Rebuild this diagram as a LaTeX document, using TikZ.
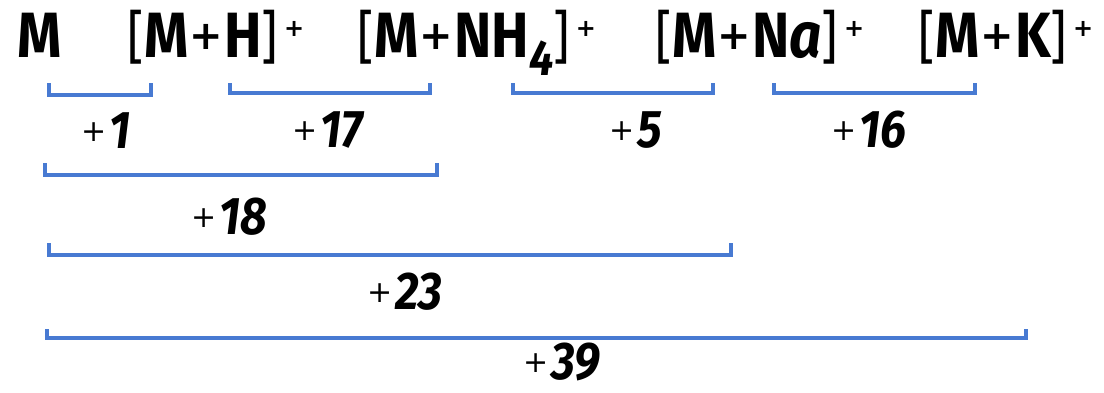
\documentclass[tikz,border=0pt]{standalone}
\usepackage{fontspec}
\setmainfont{Fira Sans}[FakeStretch=0.88]
\newfontfamily\plusfont{DejaVu Sans}
\definecolor{brk}{RGB}{72,122,210}
\newcommand\BigT{\fontsize{64}{64}\selectfont}
\newcommand\NumT{\fontsize{53}{53}\selectfont}
\newcommand\sqL{{\fontsize{58}{58}\selectfont\mdseries[}}
\newcommand\sqR{{\fontsize{58}{58}\selectfont\mdseries]}}
\newcommand\plussign{\kern1pt\raisebox{8pt}{\plusfont\fontsize{40}{40}\selectfont+}\kern1pt}
\newcommand\chargeplus{\kern6pt\raisebox{21pt}{\plusfont\fontsize{24}{24}\selectfont+}}
\newcommand\subsc[1]{\raisebox{-18pt}{\fontsize{50}{50}\selectfont\bfseries\itshape #1}}
\newcommand\incr[1]{\raisebox{7pt}{\plusfont\fontsize{30}{30}\selectfont+}\kern3pt{\NumT\bfseries\itshape #1}}
\begin{document}
\begin{tikzpicture}[x=1pt,y=-1pt,
  brace/.style={draw=brk, line width=4.4pt, line join=miter},
  lbl/.style={inner sep=0pt, anchor=base}]
\useasboundingbox (0,0) rectangle (1104,392);
% species
\node[lbl] (m)   at (40,57)   {\BigT\bfseries M};
\node[lbl] (mh)  at (216,57)  {\sqL\BigT\bfseries M\plussign H\sqR\chargeplus};
\node[lbl] (mnh) at (477,57)  {\sqL\BigT\bfseries M\plussign NH\subsc{4}\sqR\chargeplus};
\node[lbl] (mna) at (760,57)  {\sqL\BigT\bfseries M\plussign N{\itshape a}\sqR\chargeplus};
\node[lbl] (mk)  at (1006,57) {\sqL\BigT\bfseries M\plussign K\sqR\chargeplus};
% brackets
\draw[brace] (49,83) |- (151,95) -- (151,83);
\draw[brace] (230,83) |- (430,93) -- (430,83);
\draw[brace] (513,83) |- (713,93) -- (713,83);
\draw[brace] (774,83) |- (975,93) -- (975,83);
\draw[brace] (45,163) |- (437,175) -- (437,163);
\draw[brace] (49,243) |- (731,255) -- (731,243);
\draw[brace] (47,329) |- (1026,338) -- (1026,329);
% differences
\node[lbl] (d1)  at (106,148) {\incr{1}};
\node[lbl] (d17) at (328,147) {\incr{17}};
\node[lbl] (d5)  at (636,147) {\incr{5}};
\node[lbl] (d16) at (869,147) {\incr{16}};
\node[lbl] (d18) at (229,234) {\incr{18}};
\node[lbl] (d23) at (405,309) {\incr{23}};
\node[lbl] (d39) at (562,379) {\incr{39}};
\end{tikzpicture}
\end{document}
